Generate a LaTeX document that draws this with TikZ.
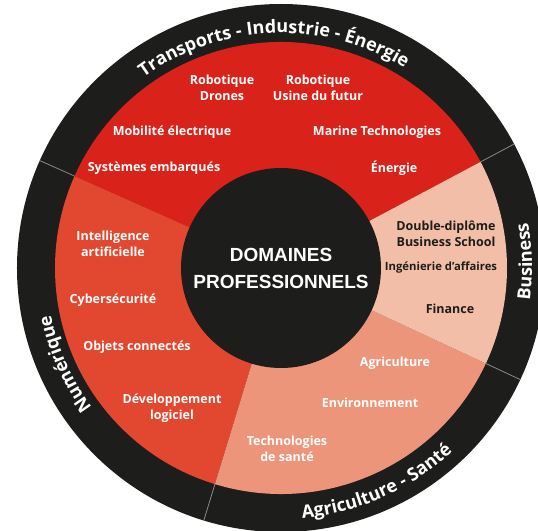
\documentclass[tikz,border=0pt]{standalone}
\usepackage{fontspec}
\setmainfont{Open Sans}
\newfontfamily\centrefont{Liberation Sans}
\usetikzlibrary{decorations.text}
\definecolor{ringblack}{HTML}{1D1D1B}
\definecolor{secred}{HTML}{D9231A}
\definecolor{secorange}{HTML}{E2472F}
\definecolor{secsalmon}{HTML}{EC957A}
\definecolor{secpink}{HTML}{F2BEA8}
\definecolor{sepgrey}{HTML}{8A8A8A}
\newcommand\ringfont{\fontsize{18}{18}\selectfont\bfseries}

\begin{document}
\begin{tikzpicture}[x=1pt,y=1pt,
  lbl/.style={text=white,font=\fontsize{12.5}{16}\selectfont\bfseries,align=center},
  lbldark/.style={lbl,text=ringblack},
  ringtext/.style={decorate,decoration={text along path,text align=center,
    text color=white,text={|\ringfont|#1}}}]
\useasboundingbox (-281,-262) rectangle (257,268);
% outer ring, sectors, centre
\fill[ringblack] (0,0) circle (264);
\foreach \a/\b/\c in {28/156/secred,156/253/secorange,253/335/secsalmon,-25/28/secpink}
  \fill[\c] (0,0) -- (\a:226) arc[start angle=\a,end angle=\b,radius=226] -- cycle;
\foreach \a in {28,156,253,-25}
  \draw[sepgrey,line width=.8pt] (\a:226) -- (\a:264);
\fill[ringblack] (0,0) circle (100);
\node[text=white,font=\centrefont\fontsize{19}{27}\selectfont\bfseries,align=center] (domaines) at (0,-0.5) {DOMAINES\\PROFESSIONNELS};

% ring labels
\path[ringtext={Transports - Industrie - Énergie}] (150:235) arc[start angle=150,end angle=34,radius=235];
\path[ringtext={Numérique}] (250:235) arc[start angle=250,end angle=158,radius=235];
\path[ringtext={Agriculture - Santé}] (256:251) arc[start angle=256,end angle=332,radius=251];
\path[ringtext={Business}] (-23:251) arc[start angle=-23,end angle=26,radius=251];

% Transports - Industrie - Energie
\node[lbl] (robdrones) at (-59,180) {Robotique\\Drones};
\node[lbl] (robusine) at (37,180) {Robotique\\Usine du futur};
\node[lbl] (mobilite) at (-109,136) {Mobilité électrique};
\node[lbl] (marine) at (96,136) {Marine Technologies};
\node[lbl] (systemes) at (-127,100) {Systèmes embarqués};
\node[lbl] (energie) at (113,100) {Énergie};
% Business
\node[lbldark] (doublediplome) at (165,34.5) {Double-diplôme\\Business School};
\node[lbldark,font=\fontsize{11.3}{14}\selectfont\bfseries] (ingenierie) at (160,0) {Ingénierie d’affaires};
\node[lbldark] (finance) at (169,-41) {Finance};
% Numerique
\node[lbl] (intelligence) at (-168,24.5) {Intelligence\\artificielle};
\node[lbl] (cyber) at (-168,-32) {Cybersécurité};
\node[lbl] (objets) at (-144,-79) {Objets connectés};
\node[lbl] (devlogiciel) at (-109,-140.5) {Développement\\logiciel};
% Agriculture - Sante
\node[lbl] (agriculture) at (114,-95) {Agriculture};
\node[lbl] (environnement) at (89,-135) {Environnement};
\node[lbl] (techsante) at (6,-180.5) {Technologies\\de santé};
\end{tikzpicture}
\end{document}
